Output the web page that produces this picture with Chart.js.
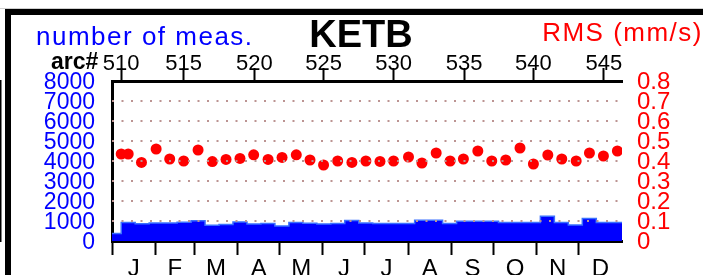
<!DOCTYPE html>
<html>
<head>
<meta charset="utf-8">
<title>KETB</title>
<script src="https://cdn.jsdelivr.net/npm/chart.js@4.4.1/dist/chart.umd.min.js"></script>
<style>
  html, body { margin: 0; padding: 0; background: #fff; overflow: hidden; }
  #wrap { position: relative; width: 703px; height: 275px; }
</style>
</head>
<body>
<div id="wrap"><canvas id="myChart"></canvas></div>
<script>
// station shown in the header
const stationName = 'KETB';

// x axis runs over one year, in days since Jan 1
const monthLabels = ['J', 'F', 'M', 'A', 'M', 'J', 'J', 'A', 'S', 'O', 'N', 'D'];
const monthStartDays = [0, 31, 59, 90, 120, 151, 181, 212, 243, 273, 304, 334, 365];

// arc numbers on the top axis and the day each one sits on
const arcLabels = ['510', '515', '520', '525', '530', '535', '540', '545'];
const arcDays = [6.6, 51.3, 101.9, 151.5, 201.5, 252, 301.6, 352];

// left axis: number of measurements
const countTicks = [0, 1000, 2000, 3000, 4000, 5000, 6000, 7000, 8000];
// right axis: RMS (mm/s)
const rmsTicks = [0, 0.1, 0.2, 0.3, 0.4, 0.5, 0.6, 0.7, 0.8];
const rmsTickLabels = ['0', '0.1', '0.2', '0.3', '0.4', '0.5', '0.6', '0.7', '0.8'];

// number of measurements per bin (day the bin starts)
const measDays = [0, 6.6, 16.6, 26.6, 36.6, 46.6, 56.6, 66.6, 76.6, 86.6, 96.6, 106.6, 116.6,
  126.6, 136.6, 146.6, 156.6, 166.6, 176.6, 186.6, 196.6, 206.6, 216.6, 226.6, 236.6, 246.6,
  256.6, 266.6, 276.6, 286.6, 296.6, 306.6, 316.6, 326.6, 336.6, 346.6, 356.6];
const measCounts = [370, 920, 860, 900, 900, 940, 1010, 785, 820, 950, 850, 880, 750,
  920, 890, 850, 870, 1020, 900, 880, 870, 870, 1035, 1035, 870, 985,
  985, 985, 920, 920, 920, 1235, 920, 800, 1120, 920, 920];

// RMS per arc
const rmsDays = [6.6, 11.6, 21.1, 31.6, 41.3, 51.3, 61.6, 71.8, 81.6, 91.6, 101.4, 111.7, 121.7,
  131.9, 141.7, 151.4, 161.5, 171.7, 181.7, 191.8, 201.5, 212.2, 221.8, 232, 242, 251.5,
  261.8, 271.8, 281.8, 292, 301.6, 311.9, 321.9, 332.2, 341.7, 351.7, 361.7];
const rmsValues = [0.435, 0.435, 0.393, 0.46, 0.41, 0.40, 0.455, 0.397, 0.408, 0.413, 0.431, 0.408, 0.418,
  0.431, 0.405, 0.38, 0.40, 0.393, 0.40, 0.398, 0.40, 0.42, 0.39, 0.44, 0.40, 0.41,
  0.45, 0.40, 0.405, 0.465, 0.385, 0.43, 0.41, 0.40, 0.44, 0.425, 0.45];

const FONT = '"Liberation Sans", Arial, Helvetica, sans-serif';
const DAY_MAX = monthStartDays[monthStartDays.length - 1];

// step line needs one closing point at the end of the year
const measPoints = measDays.map((d, i) => ({ x: d, y: measCounts[i] }));
measPoints.push({ x: DAY_MAX, y: measCounts[measCounts.length - 1] });
const rmsPoints = rmsDays.map((d, i) => ({ x: d, y: rmsValues[i] }));

// bottom axis: month boundaries (tick marks) and mid-month (letters)
const monthTicks = [];
for (let i = 0; i < monthLabels.length; i++) {
    monthTicks.push(monthStartDays[i]);
    monthTicks.push((monthStartDays[i] + monthStartDays[i + 1]) / 2);
}

function fixedTicks(list) {
    return function (scale) {
        scale.ticks = list.map(v => ({ value: v }));
    };
}

const framePlugin = {
    id: 'frame',
    beforeDraw(chart) {
        const ctx = chart.ctx;
        ctx.save();
        ctx.fillStyle = '#fff';
        ctx.fillRect(0, 0, 703, 275);
        ctx.restore();
    },
    afterDraw(chart) {
        const ctx = chart.ctx;
        ctx.save();
        // outer frame of the panel
        ctx.fillStyle = '#cfcfcf';
        ctx.fillRect(0, 8, 703, 1);
        ctx.fillStyle = '#000';
        ctx.fillRect(5, 9, 6, 266);
        ctx.fillRect(5, 9, 698, 6);

        ctx.textBaseline = 'alphabetic';
        ctx.fillStyle = '#0000ff';
        ctx.textAlign = 'left';
        ctx.font = '26px ' + FONT;
        ctx.letterSpacing = '1.5px';
        ctx.fillText('number of meas.', 36, 45);

        ctx.fillStyle = '#ff0000';
        ctx.textAlign = 'right';
        ctx.fillText('RMS (mm/s)', 703, 41);

        ctx.letterSpacing = '0px';
        ctx.fillStyle = '#000';
        ctx.textAlign = 'center';
        ctx.font = 'bold 38px ' + FONT;
        ctx.fillText(stationName, 361, 47);

        ctx.textAlign = 'left';
        ctx.font = 'bold 23px ' + FONT;
        ctx.fillText('arc#', 51, 68.5);
        ctx.restore();
    }
};

const ctx = document.getElementById('myChart');
new Chart(ctx, {
    type: 'line',
    data: {
        datasets: [{
            label: 'RMS (mm/s)',
            data: rmsPoints,
            xAxisID: 'x',
            yAxisID: 'yR',
            showLine: false,
            pointRadius: 5.5,
            pointHoverRadius: 5.5,
            pointBackgroundColor: '#ff0000',
            pointBorderWidth: 0,
            order: 0
        }, {
            label: 'number of meas.',
            data: measPoints,
            xAxisID: 'x',
            yAxisID: 'yL',
            stepped: true,
            fill: 'origin',
            backgroundColor: '#0000ff',
            borderColor: '#3a70ff',
            borderWidth: 1.5,
            pointRadius: 0,
            order: 1
        }]
    },
    options: {
        responsive: true,
        maintainAspectRatio: false,
        devicePixelRatio: 1,
        animation: false,
        layout: { padding: 0 },
        plugins: {
            legend: { display: false },
            tooltip: { enabled: false }
        },
        scales: {
            x: {
                type: 'linear',
                position: 'bottom',
                min: 0,
                max: DAY_MAX,
                afterBuildTicks: fixedTicks(monthTicks),
                afterFit: s => { s.height = 34; },
                ticks: {
                    autoSkip: false,
                    maxRotation: 0,
                    minRotation: 0,
                    padding: 0,
                    color: '#000',
                    font: { family: FONT, size: 24 },
                    callback: (v, i) => (i % 2 ? monthLabels[(i - 1) / 2] : '')
                },
                grid: {
                    drawOnChartArea: false,
                    drawTicks: true,
                    tickLength: 14,
                    tickWidth: 2,
                    tickColor: c => (c.index % 2 ? 'rgba(0,0,0,0)' : '#000')
                },
                border: { display: true, color: '#000', width: 3 }
            },
            xTop: {
                type: 'linear',
                position: 'top',
                min: 0,
                max: DAY_MAX,
                afterBuildTicks: fixedTicks(arcDays),
                afterFit: s => { s.height = 81; },
                ticks: {
                    autoSkip: false,
                    maxRotation: 0,
                    minRotation: 0,
                    padding: -9,
                    color: '#000',
                    font: { family: FONT, size: 22 },
                    callback: (v, i) => arcLabels[i]
                },
                grid: {
                    drawOnChartArea: false,
                    drawTicks: true,
                    tickLength: 13,
                    tickWidth: 2,
                    tickColor: '#000'
                },
                border: { display: true, color: '#000', width: 3 }
            },
            yL: {
                type: 'linear',
                position: 'left',
                min: 0,
                max: 8000,
                afterBuildTicks: fixedTicks(countTicks),
                afterFit: s => { s.width = 112; },
                ticks: {
                    autoSkip: false,
                    padding: 17,
                    labelOffset: 1.5,
                    color: '#0000ff',
                    font: { family: FONT, size: 23 },
                    callback: v => String(v)
                },
                grid: { drawOnChartArea: false, drawTicks: false },
                border: { display: true, color: '#000', width: 3 }
            },
            yR: {
                type: 'linear',
                position: 'right',
                min: 0,
                max: 0.8,
                afterBuildTicks: fixedTicks(rmsTicks),
                afterFit: s => { s.width = 81; },
                ticks: {
                    autoSkip: false,
                    padding: 15,
                    labelOffset: 1.5,
                    color: '#ff0000',
                    font: { family: FONT, size: 24 },
                    callback: (v, i) => rmsTickLabels[i]
                },
                grid: {
                    drawOnChartArea: true,
                    drawTicks: false,
                    lineWidth: 2,
                    z: 1,
                    color: c => ((c.index === 0 || c.index === rmsTicks.length - 1) ? 'rgba(0,0,0,0)' : '#bc9492')
                },
                border: { display: true, color: '#000', width: 3, dash: [2, 7.5] }
            }
        }
    },
    plugins: [framePlugin]
});
</script>
</body>
</html>
